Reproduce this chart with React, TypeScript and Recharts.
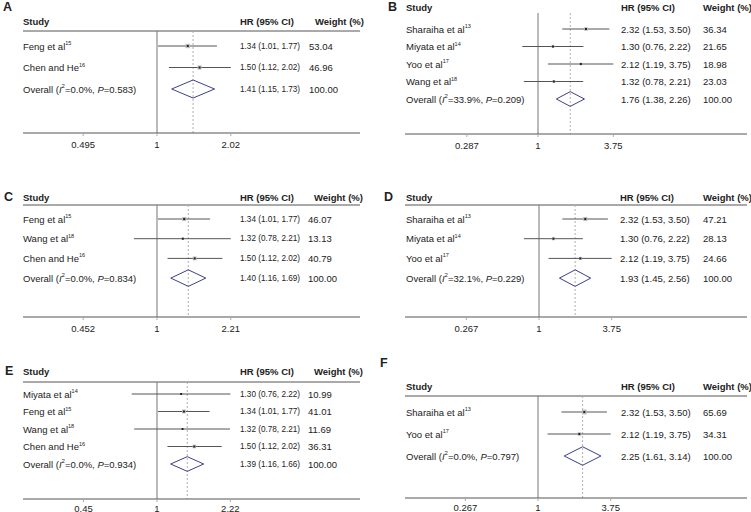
import React from "react";
import { ComposedChart, ReferenceLine, Scatter, XAxis, YAxis } from "recharts";

const FONT = '"Liberation Sans", Arial, Helvetica, sans-serif';

// A
const studiesA = ["Feng et al", "Chen and He"];
const refsA = ["15", "16"];
const hrA = [1.34, 1.5];
const lowA = [1.01, 1.12];
const highA = [1.77, 2.02];
const weightsA = [53.04, 46.96];
const overallA = [1.41, 1.15, 1.73];
const hetA = ["0.0%", "0.583"];
const ticksA = [0.495, 1, 2.02];

// B
const studiesB = ["Sharaiha et al", "Miyata et al", "Yoo et al", "Wang et al"];
const refsB = ["13", "14", "17", "18"];
const hrB = [2.32, 1.3, 2.12, 1.32];
const lowB = [1.53, 0.76, 1.19, 0.78];
const highB = [3.5, 2.22, 3.75, 2.21];
const weightsB = [36.34, 21.65, 18.98, 23.03];
const overallB = [1.76, 1.38, 2.26];
const hetB = ["33.9%", "0.209"];
const ticksB = [0.287, 1, 3.75];

// C
const studiesC = ["Feng et al", "Wang et al", "Chen and He"];
const refsC = ["15", "18", "16"];
const hrC = [1.34, 1.32, 1.5];
const lowC = [1.01, 0.78, 1.12];
const highC = [1.77, 2.21, 2.02];
const weightsC = [46.07, 13.13, 40.79];
const overallC = [1.4, 1.16, 1.69];
const hetC = ["0.0%", "0.834"];
const ticksC = [0.452, 1, 2.21];

// D
const studiesD = ["Sharaiha et al", "Miyata et al", "Yoo et al"];
const refsD = ["13", "14", "17"];
const hrD = [2.32, 1.3, 2.12];
const lowD = [1.53, 0.76, 1.19];
const highD = [3.5, 2.22, 3.75];
const weightsD = [47.21, 28.13, 24.66];
const overallD = [1.93, 1.45, 2.56];
const hetD = ["32.1%", "0.229"];
const ticksD = [0.267, 1, 3.75];

// E
const studiesE = ["Miyata et al", "Feng et al", "Wang et al", "Chen and He"];
const refsE = ["14", "15", "18", "16"];
const hrE = [1.3, 1.34, 1.32, 1.5];
const lowE = [0.76, 1.01, 0.78, 1.12];
const highE = [2.22, 1.77, 2.21, 2.02];
const weightsE = [10.99, 41.01, 11.69, 36.31];
const overallE = [1.39, 1.16, 1.66];
const hetE = ["0.0%", "0.934"];
const ticksE = [0.45, 1, 2.22];

// F
const studiesF = ["Sharaiha et al", "Yoo et al"];
const refsF = ["13", "17"];
const hrF = [2.32, 2.12];
const lowF = [1.53, 1.19];
const highF = [3.5, 3.75];
const weightsF = [65.69, 34.31];
const overallF = [2.25, 1.61, 3.14];
const hetF = ["0.0%", "0.797"];
const ticksF = [0.267, 1, 3.75];

type Layout = {
  left: number;
  top: number;
  width: number;
  height: number;
  letterX: number;
  letterY: number;
  headerY: number;
  underline: boolean;
  lineTop: number;
  rowTop: number;
  rowStep: number;
  axisY: number;
  tickGap: number;
  plotLeft: number;
  plotRight: number;
  nullX: number;
  scale: number;
  studyX: number;
  hrX: number;
  hrFont: number;
  weightX: number;
  weightHeadX: number;
};

type Panel = {
  letter: string;
  studies: string[];
  refs: string[];
  hr: number[];
  low: number[];
  high: number[];
  weights: number[];
  overall: number[];
  het: string[];
  ticks: number[];
  layout: Layout;
};

const leftCols = { plotLeft: 23, plotRight: 360, studyX: 23, hrX: 240, hrFont: 8.2, weightX: 309, weightHeadX: 315 };
const rightCols = { plotLeft: 30, plotRight: 372, studyX: 31, hrX: 246, hrFont: 9.5, weightX: 328, weightHeadX: 328 };

const panels: Panel[] = [
  {
    letter: "A", studies: studiesA, refs: refsA, hr: hrA, low: lowA, high: highA, weights: weightsA,
    overall: overallA, het: hetA, ticks: ticksA,
    layout: { left: 0, top: 0, width: 375, height: 170, letterX: 3, letterY: 7, headerY: 21, underline: true,
      lineTop: 31, rowTop: 46, rowStep: 21.5, axisY: 133, tickGap: 5, nullX: 157, scale: 105, ...leftCols },
  },
  {
    letter: "B", studies: studiesB, refs: refsB, hr: hrB, low: lowB, high: highB, weights: weightsB,
    overall: overallB, het: hetB, ticks: ticksB,
    layout: { left: 375, top: 0, width: 376, height: 170, letterX: 13, letterY: 7, headerY: 7, underline: false,
      lineTop: 13, rowTop: 29, rowStep: 17.5, axisY: 134, tickGap: 5, nullX: 163, scale: 57, ...rightCols },
  },
  {
    letter: "C", studies: studiesC, refs: refsC, hr: hrC, low: lowC, high: highC, weights: weightsC,
    overall: overallC, het: hetC, ticks: ticksC,
    layout: { left: 0, top: 170, width: 375, height: 175, letterX: 4, letterY: 27, headerY: 27, underline: true,
      lineTop: 35, rowTop: 49, rowStep: 19.7, axisY: 147, tickGap: 5, nullX: 157, scale: 93, ...leftCols, weightX: 308, weightHeadX: 314 },
  },
  {
    letter: "D", studies: studiesD, refs: refsD, hr: hrD, low: lowD, high: highD, weights: weightsD,
    overall: overallD, het: hetD, ticks: ticksD,
    layout: { left: 375, top: 170, width: 376, height: 175, letterX: 9, letterY: 27, headerY: 27, underline: true,
      lineTop: 35, rowTop: 49, rowStep: 19.7, axisY: 147, tickGap: 5, nullX: 164, scale: 55, ...rightCols, hrX: 245 },
  },
  {
    letter: "E", studies: studiesE, refs: refsE, hr: hrE, low: lowE, high: highE, weights: weightsE,
    overall: overallE, het: hetE, ticks: ticksE,
    layout: { left: 0, top: 330, width: 375, height: 182, letterX: 5, letterY: 41, headerY: 41, underline: true,
      lineTop: 52, rowTop: 64, rowStep: 17.5, axisY: 169, tickGap: 3, nullX: 157, scale: 92, ...leftCols, weightX: 308, weightHeadX: 314 },
  },
  {
    letter: "F", studies: studiesF, refs: refsF, hr: hrF, low: lowF, high: highF, weights: weightsF,
    overall: overallF, het: hetF, ticks: ticksF,
    layout: { left: 375, top: 330, width: 376, height: 182, letterX: 5, letterY: 33, headerY: 56, underline: true,
      lineTop: 66, rowTop: 82, rowStep: 22, axisY: 168, tickGap: 3, nullX: 163, scale: 55, ...rightCols },
  },
];

const fmt = (v: number) => v.toFixed(2);

function ForestPanel({ p }: { p: Panel }) {
  const L = p.layout;
  const yv = (px: number) => 1 + (px - L.rowTop) / L.rowStep;
  const xMin = (L.plotLeft - L.nullX) / L.scale;
  const xMax = (L.plotRight - L.nullX) / L.scale;
  const yMin = yv(0);
  const yMax = yv(L.axisY);
  const n = p.studies.length;
  const [ov, ovLo, ovHi] = p.overall;
  const oy = n + 1;
  const dh = 0.42;
  const tickVals = p.ticks.map((t) => Math.log(t));

  const points = p.studies.map((_, i) => ({ x: Math.log(p.hr[i]), y: i + 1, w: p.weights[i] }));
  const diamond = [
    { x: Math.log(ovLo), y: oy },
    { x: Math.log(ov), y: oy - dh },
    { x: Math.log(ovHi), y: oy },
    { x: Math.log(ov), y: oy + dh },
    { x: Math.log(ovLo), y: oy },
  ];
  const textRows = [
    { x: xMin, y: yv(L.headerY), kind: "header", i: -1 },
    ...p.studies.map((_, i) => ({ x: xMin, y: i + 1, kind: "study", i })),
    { x: xMin, y: oy, kind: "overall", i: -1 },
  ];

  const off = (col: number) => col - L.plotLeft;
  const base = { fontFamily: FONT, fontSize: 9.5, fill: "#222", dominantBaseline: "central" as const };

  const TextRow = (props: any) => {
    const { cx, cy, payload } = props;
    if (payload.kind === "header") {
      return (
        <g>
          <text {...base} x={cx + off(L.letterX)} y={cy + (L.letterY - L.headerY)} fontSize={12.5} fontWeight="bold">
            {p.letter}
          </text>
          <text {...base} x={cx + off(L.studyX)} y={cy} fontWeight="bold">Study</text>
          <text {...base} x={cx + off(L.hrX)} y={cy} fontWeight="bold">HR (95% CI)</text>
          <text {...base} x={cx + off(L.weightHeadX)} y={cy} fontWeight="bold">Weight (%)</text>
        </g>
      );
    }
    if (payload.kind === "overall") {
      return (
        <g>
          <text {...base} x={cx + off(L.studyX)} y={cy}>
            Overall (<tspan fontStyle="italic">I</tspan>
            <tspan fontSize={6} dy={-3}>2</tspan>
            <tspan dy={3}>={p.het[0]}, </tspan>
            <tspan fontStyle="italic">P</tspan>={p.het[1]})
          </text>
          <text {...base} fontSize={L.hrFont} x={cx + off(L.hrX)} y={cy}>
            {`${fmt(ov)} (${fmt(ovLo)}, ${fmt(ovHi)})`}
          </text>
          <text {...base} x={cx + off(L.weightX)} y={cy}>100.00</text>
        </g>
      );
    }
    const i = payload.i;
    return (
      <g>
        <text {...base} x={cx + off(L.studyX)} y={cy}>
          {p.studies[i]}
          <tspan fontSize={5.5} dy={-3}>{p.refs[i]}</tspan>
        </text>
        <text {...base} fontSize={L.hrFont} x={cx + off(L.hrX)} y={cy}>
          {`${fmt(p.hr[i])} (${fmt(p.low[i])}, ${fmt(p.high[i])})`}
        </text>
        <text {...base} x={cx + off(L.weightX)} y={cy}>{fmt(p.weights[i])}</text>
      </g>
    );
  };

  const Marker = (props: any) => {
    const { cx, cy, payload } = props;
    const s = 0.6 * Math.sqrt(payload.w);
    return (
      <g>
        <rect x={cx - s / 2} y={cy - s / 2} width={s} height={s} fill="#bdbdbd" />
        <rect x={cx - 1} y={cy - 1} width={2} height={2} fill="#222" />
      </g>
    );
  };

  return (
    <div style={{ position: "absolute", left: L.left, top: L.top }}>
      <ComposedChart
        width={L.width}
        height={L.height}
        margin={{ top: 0, left: L.plotLeft, right: L.width - L.plotRight, bottom: L.height - L.axisY - 10 }}
      >
        <XAxis
          type="number"
          dataKey="x"
          domain={[xMin, xMax]}
          ticks={tickVals}
          interval={0}
          height={10}
          tickFormatter={(v: number) => {
            const k = tickVals.findIndex((t) => Math.abs(t - v) < 1e-9);
            return k >= 0 ? String(p.ticks[k]) : "";
          }}
          axisLine={{ stroke: "#555" }}
          tickLine={{ stroke: "#aaa" }}
          tickSize={3}
          tickMargin={L.tickGap}
          tick={{ fontSize: 9.5, fill: "#222", fontFamily: FONT }}
        />
        <YAxis type="number" dataKey="y" domain={[yMin, yMax]} reversed hide />
        {L.underline && (
          <ReferenceLine
            segment={[{ x: xMin, y: yv(L.lineTop) }, { x: xMax, y: yv(L.lineTop) }]}
            stroke="#555"
          />
        )}
        <ReferenceLine segment={[{ x: 0, y: yv(L.lineTop) }, { x: 0, y: yMax }]} stroke="#777" />
        <ReferenceLine
          segment={[{ x: Math.log(ov), y: yv(L.lineTop) }, { x: Math.log(ov), y: yMax }]}
          stroke="#b9aab2"
          strokeDasharray="2 2"
        />
        {p.studies.map((s, i) => (
          <ReferenceLine
            key={s}
            segment={[{ x: Math.log(p.low[i]), y: i + 1 }, { x: Math.log(p.high[i]), y: i + 1 }]}
            stroke="#555"
          />
        ))}
        <Scatter data={points} shape={Marker} isAnimationActive={false} />
        <Scatter
          data={diamond}
          line={{ stroke: "#3d4088", strokeWidth: 1 }}
          lineType="joint"
          shape={() => <g />}
          isAnimationActive={false}
        />
        <Scatter data={textRows} shape={TextRow} isAnimationActive={false} />
      </ComposedChart>
    </div>
  );
}

export default function App() {
  return (
    <div style={{ position: "absolute", left: 0, top: 0, width: 751, height: 512, background: "#fff" }}>
      {panels.map((p) => (
        <ForestPanel key={p.letter} p={p} />
      ))}
    </div>
  );
}
